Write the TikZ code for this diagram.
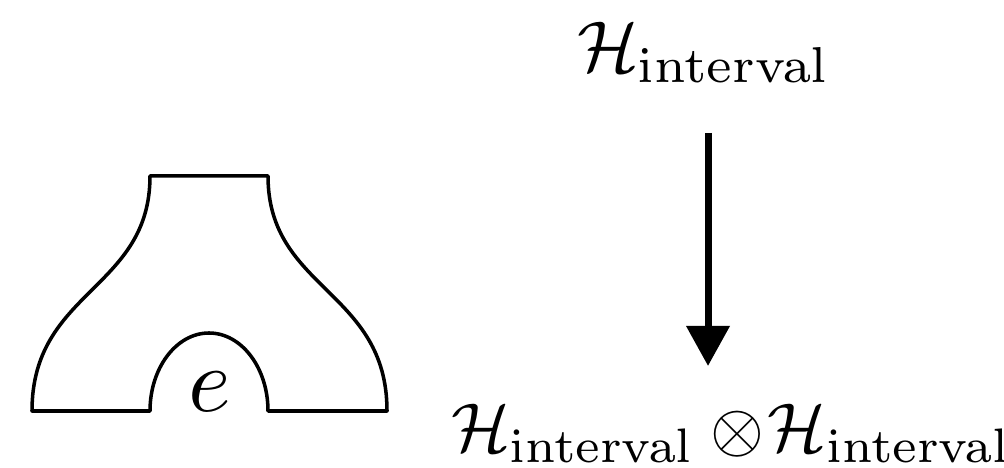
\documentclass[tikz,border=0pt]{standalone}
\usetikzlibrary{arrows.meta}
\tikzset{
  label/.style={inner sep=0pt, outer sep=0pt, scale=2.05, transform shape},
  outline/.style={line width=1pt, line join=round},
  mainarrow/.style={line width=2pt, -{Triangle[length=0.4cm,width=0.42cm]}}
}
\begin{document}
\begin{tikzpicture}[x=0.01cm,y=-0.01cm]
\useasboundingbox (0,0) rectangle (1004,468);
% pair of pants outline
\draw[outline] (150,176) -- (268,176)
  .. controls (268,290) and (387,290) .. (387,411)
  -- (268,411)
  .. controls (268,367.9) and (241.6,333) .. (209,333)
  .. controls (176.4,333) and (150,367.9) .. (150,411)
  -- (32,411)
  .. controls (32,290) and (150,290) .. (150,176) -- cycle;
\node[inner sep=0pt, scale=2.6, transform shape] (e) at (210,392) {$e$};
% labels
\node[label, anchor=base west] (top) at (577,72) {$\mathcal{H}_{\mathrm{interval}}$};
\node[label, scale=0.96, anchor=base west] (bot) at (451,452) {$\mathcal{H}_{\mathrm{interval}}\mathbin{\otimes}\!\mathcal{H}_{\mathrm{interval}}$};
\coordinate (a1) at (708,133);
\coordinate (a2) at (708,366);
\draw[mainarrow] (a1) -- (a2);
\end{tikzpicture}
\end{document}
